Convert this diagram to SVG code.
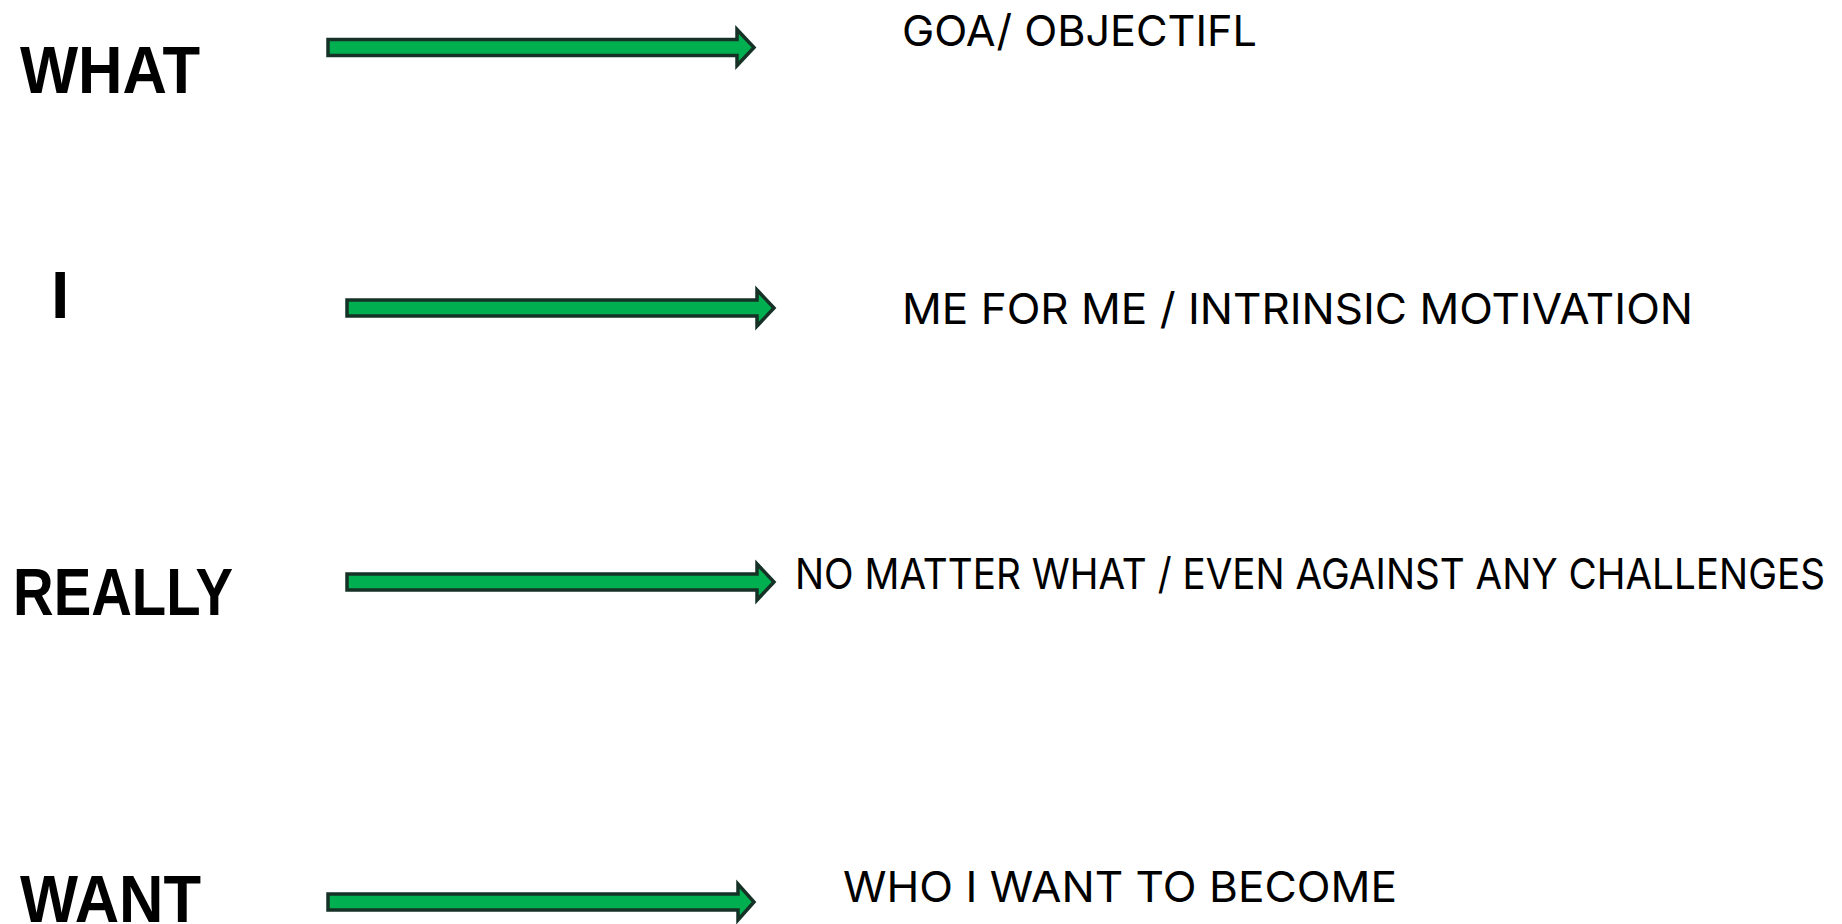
<svg xmlns="http://www.w3.org/2000/svg" width="1842" height="924" viewBox="0 0 1842 924">
<style>
.bg{fill:#ffffff}
.key{font-family:"Liberation Sans",Arial,sans-serif;font-weight:bold;font-size:66px;fill:#000000}
.desc{font-family:Inter,"Liberation Sans",sans-serif;font-size:43px;fill:#000000}
.arrow{fill:#00b050;stroke:#163227;stroke-width:3.5;stroke-linejoin:miter}
</style>
<rect class="bg" x="0" y="0" width="1842" height="924"/>
<g id="connectors">
<path class="arrow" d="M328,39.5 H737 V29.5 L754,47.5 L737,65.5 V55.5 H328 Z"/>
<path class="arrow" d="M347,300 H757 V290 L774,308 L757,326 V316 H347 Z"/>
<path class="arrow" d="M347,574 H757 V564 L774,582 L757,600 V590 H347 Z"/>
<path class="arrow" d="M328,894 H738 V884 L754,902 L738,920 V910 H328 Z"/>
</g>
<g id="node-what"><text class="key" x="20" y="93" textLength="180" lengthAdjust="spacingAndGlyphs">WHAT</text></g>
<g id="node-i"><text class="key" x="51" y="318" font-size="62">I</text></g>
<g id="node-really"><text class="key" x="13" y="615" textLength="220" lengthAdjust="spacingAndGlyphs">REALLY</text></g>
<g id="node-want"><text class="key" x="20" y="922" textLength="181" lengthAdjust="spacingAndGlyphs">WANT</text></g>
<g id="node-goal"><text class="desc" x="902" y="46" textLength="355" lengthAdjust="spacingAndGlyphs">GOA/ OBJECTIFL</text></g>
<g id="node-me"><text class="desc" x="902" y="324" textLength="791" lengthAdjust="spacingAndGlyphs">ME FOR ME / INTRINSIC MOTIVATION</text></g>
<g id="node-nomatter"><text class="desc" x="795" y="589" font-size="40" textLength="1030" lengthAdjust="spacingAndGlyphs">NO MATTER WHAT / EVEN AGAINST ANY CHALLENGES</text></g>
<g id="node-who"><text class="desc" x="843" y="902" textLength="554" lengthAdjust="spacingAndGlyphs">WHO I WANT TO BECOME</text></g>
</svg>
